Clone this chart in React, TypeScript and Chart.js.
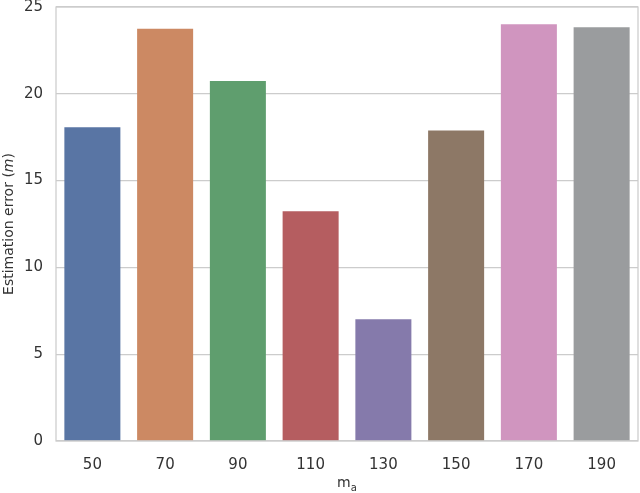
import { useEffect, useRef } from 'react';
import { Chart, registerables } from 'chart.js';

Chart.register(...registerables);

const categories = ['50', '70', '90', '110', '130', '150', '170', '190'];
const errors = [18.08, 23.74, 20.74, 13.24, 7.02, 17.89, 24.0, 23.83];
const barColors = ['#5975a4', '#cc8963', '#5f9e6e', '#b55d60', '#857aab', '#8d7866', '#d095bf', '#9a9c9e'];
const yTicks = [0, 5, 10, 15, 20, 25];

const FONT = '"DejaVu Sans", sans-serif';
const TEXT = '#333333';
const GRID = '#cccccc';

// frame + axis titles with sub/italic parts
const decorations = {
  id: 'decorations',
  afterDraw(chart: Chart) {
    const { ctx, chartArea } = chart;
    ctx.save();
    ctx.strokeStyle = GRID;
    ctx.lineWidth = 1.25;
    ctx.strokeRect(chartArea.left, chartArea.top, chartArea.right - chartArea.left, chartArea.bottom - chartArea.top);

    ctx.fillStyle = TEXT;
    // x title: m with subscript a
    const cx = (chartArea.left + chartArea.right) / 2;
    ctx.font = `14px ${FONT}`;
    const mW = ctx.measureText('m').width;
    ctx.font = `10px ${FONT}`;
    const aW = ctx.measureText('a').width;
    const startX = cx - (mW + aW) / 2;
    ctx.textBaseline = 'alphabetic';
    ctx.textAlign = 'left';
    ctx.font = `14px ${FONT}`;
    ctx.fillText('m', startX, 487);
    ctx.font = `10px ${FONT}`;
    ctx.fillText('a', startX + mW, 491);

    // y title: Estimation error (m) with italic m
    const cy = (chartArea.top + chartArea.bottom) / 2;
    ctx.translate(13, cy);
    ctx.rotate(-Math.PI / 2);
    const parts: [string, string][] = [
      ['Estimation error (', `14px ${FONT}`],
      ['m', `italic 14px ${FONT}`],
      [')', `14px ${FONT}`],
    ];
    let total = 0;
    for (const [t, f] of parts) {
      ctx.font = f;
      total += ctx.measureText(t).width;
    }
    let x = -total / 2;
    for (const [t, f] of parts) {
      ctx.font = f;
      ctx.fillText(t, x, 0);
      x += ctx.measureText(t).width;
    }
    ctx.restore();
  },
};

export default function App() {
  const canvasRef = useRef<HTMLCanvasElement>(null);
  const chartInstance = useRef<Chart | null>(null);

  useEffect(() => {
    document.body.style.margin = '0';
    if (!canvasRef.current) return;
    if (chartInstance.current) chartInstance.current.destroy();

    chartInstance.current = new Chart(canvasRef.current, {
      type: 'bar',
      data: {
        labels: categories,
        datasets: [
          {
            data: errors,
            backgroundColor: barColors,
            borderWidth: 0,
            barPercentage: 0.77,
            categoryPercentage: 1,
          },
        ],
      },
      options: {
        responsive: false,
        animation: false,
        layout: { padding: { top: 7, right: 2, left: 0, bottom: 0 } },
        plugins: {
          legend: { display: false },
          tooltip: { enabled: false },
        },
        scales: {
          x: {
            grid: { display: false },
            border: { display: false },
            ticks: { color: TEXT, font: { family: FONT, size: 15 }, padding: 7 },
            afterFit: (axis: any) => {
              axis.height = 52;
              axis.paddingLeft = 0;
              axis.paddingRight = 0;
            },
          },
          y: {
            min: 0,
            max: 25,
            afterBuildTicks: (axis: any) => {
              axis.ticks = yTicks.map((v) => ({ value: v }));
            },
            grid: { color: GRID, lineWidth: 1.25, drawTicks: false },
            border: { display: false },
            ticks: { color: TEXT, font: { family: FONT, size: 15 }, padding: 13 },
            afterFit: (axis: any) => {
              axis.width = 56;
              axis.paddingTop = 0;
              axis.paddingBottom = 0;
            },
          },
        },
      },
      plugins: [decorations],
    });

    return () => {
      if (chartInstance.current) {
        chartInstance.current.destroy();
        chartInstance.current = null;
      }
    };
  }, []);

  return (
    <div style={{ width: 640, height: 493 }}>
      <canvas ref={canvasRef} width={640} height={493}></canvas>
    </div>
  );
}
